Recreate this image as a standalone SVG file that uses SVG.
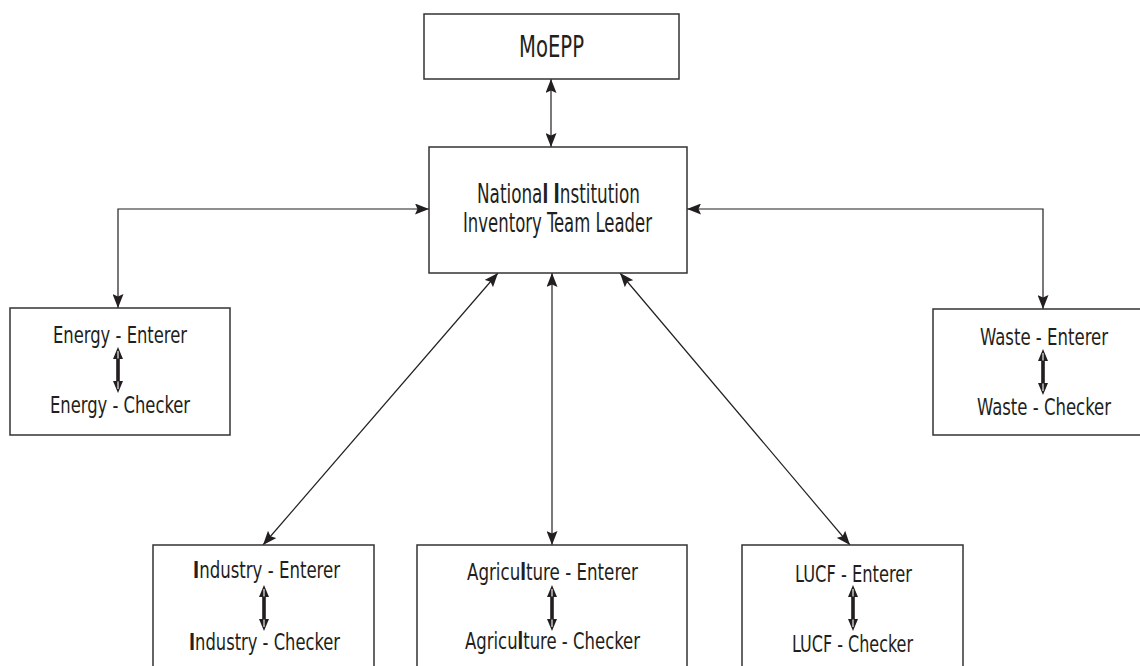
<svg xmlns="http://www.w3.org/2000/svg" width="1140" height="666" viewBox="0 0 1140 666">
<style>
.box{fill:#fff;stroke:#333;stroke-width:1.5}
.con{fill:none;stroke:#231f20;stroke-width:1.2}
.t{font-family:"Liberation Sans Narrow","DejaVu Sans Condensed","Liberation Sans",sans-serif;fill:#231f20;text-anchor:middle}
.s{font-size:23px}
.b{font-weight:bold}
</style>
<defs>
<marker id="ah" viewBox="0 0 14 11" refX="14" refY="5.5" markerWidth="14" markerHeight="11" markerUnits="userSpaceOnUse" orient="auto-start-reverse">
<path d="M0,0 L14,5.5 L0,11 L2.5,5.5 z" fill="#231f20"/>
</marker>
<g id="da">
<polygon points="0,0 -5,12 5,12" fill="#231f20"/>
<rect x="-1.8" y="10" width="3.6" height="26" fill="#231f20"/>
<polygon points="0,46 -5,34 5,34" fill="#231f20"/>
<line x1="0" y1="4" x2="0" y2="11.5" stroke="#fff" stroke-width="1.1"/>
<line x1="0" y1="34.5" x2="0" y2="42" stroke="#fff" stroke-width="1.1"/>
</g>
</defs>
<rect width="1140" height="666" fill="#fff"/>

<g id="connectors">
<line class="con" x1="551" y1="79" x2="551" y2="147" marker-start="url(#ah)" marker-end="url(#ah)"/>
<path class="con" d="M429,209 H118 V308" marker-start="url(#ah)" marker-end="url(#ah)"/>
<path class="con" d="M687,209 H1043 V309" marker-start="url(#ah)" marker-end="url(#ah)"/>
<line class="con" x1="498" y1="273" x2="263" y2="545" marker-start="url(#ah)" marker-end="url(#ah)"/>
<line class="con" x1="552" y1="273" x2="552" y2="545" marker-start="url(#ah)" marker-end="url(#ah)"/>
<line class="con" x1="620" y1="273" x2="850" y2="545" marker-start="url(#ah)" marker-end="url(#ah)"/>
</g>

<g id="moepp">
<rect class="box" x="424" y="14" width="255" height="65"/>
<text class="t" x="551.5" y="57" font-size="31" textLength="65" lengthAdjust="spacingAndGlyphs">MoEPP</text>
</g>

<g id="leader">
<rect class="box" x="429" y="147" width="258" height="126"/>
<text class="t" x="558.5" y="203" font-size="26" textLength="163" lengthAdjust="spacingAndGlyphs">Nationa<tspan class="b">l</tspan> <tspan class="b">I</tspan>nstitution</text>
<text class="t" x="557.5" y="232" font-size="26" textLength="189" lengthAdjust="spacingAndGlyphs">Inventory Team Leader</text>
</g>

<g id="energy">
<rect class="box" x="10" y="308" width="220" height="127"/>
<text class="t s" x="120" y="343" textLength="134" lengthAdjust="spacingAndGlyphs">Energy - Enterer</text>
<use href="#da" x="118" y="347"/>
<text class="t s" x="120" y="413" textLength="140" lengthAdjust="spacingAndGlyphs">Energy - Checker</text>
</g>

<g id="waste">
<rect class="box" x="933" y="309" width="215" height="126"/>
<text class="t s" x="1044" y="345" textLength="128" lengthAdjust="spacingAndGlyphs">Waste - Enterer</text>
<use href="#da" x="1043" y="349"/>
<text class="t s" x="1044" y="415" textLength="134" lengthAdjust="spacingAndGlyphs">Waste - Checker</text>
</g>

<g id="industry">
<rect class="box" x="153" y="545" width="221" height="130"/>
<text class="t s" x="266.5" y="578" textLength="147" lengthAdjust="spacingAndGlyphs"><tspan class="b">I</tspan>ndustry - Enterer</text>
<use href="#da" x="264" y="585"/>
<text class="t s" x="264.5" y="650" textLength="151" lengthAdjust="spacingAndGlyphs"><tspan class="b">I</tspan>ndustry - Checker</text>
</g>

<g id="agriculture">
<rect class="box" x="417" y="545" width="270" height="130"/>
<text class="t s" x="552.5" y="580" textLength="171" lengthAdjust="spacingAndGlyphs">Agricu<tspan class="b">l</tspan>ture - Enterer</text>
<use href="#da" x="552" y="585"/>
<text class="t s" x="552.5" y="649" textLength="175" lengthAdjust="spacingAndGlyphs">Agricu<tspan class="b">l</tspan>ture - Checker</text>
</g>

<g id="lucf">
<rect class="box" x="742" y="545" width="221" height="130"/>
<text class="t s" x="853.5" y="582" textLength="117" lengthAdjust="spacingAndGlyphs">LUCF - Enterer</text>
<use href="#da" x="853" y="585"/>
<text class="t s" x="852.5" y="652" textLength="121" lengthAdjust="spacingAndGlyphs">LUCF - Checker</text>
</g>
</svg>
